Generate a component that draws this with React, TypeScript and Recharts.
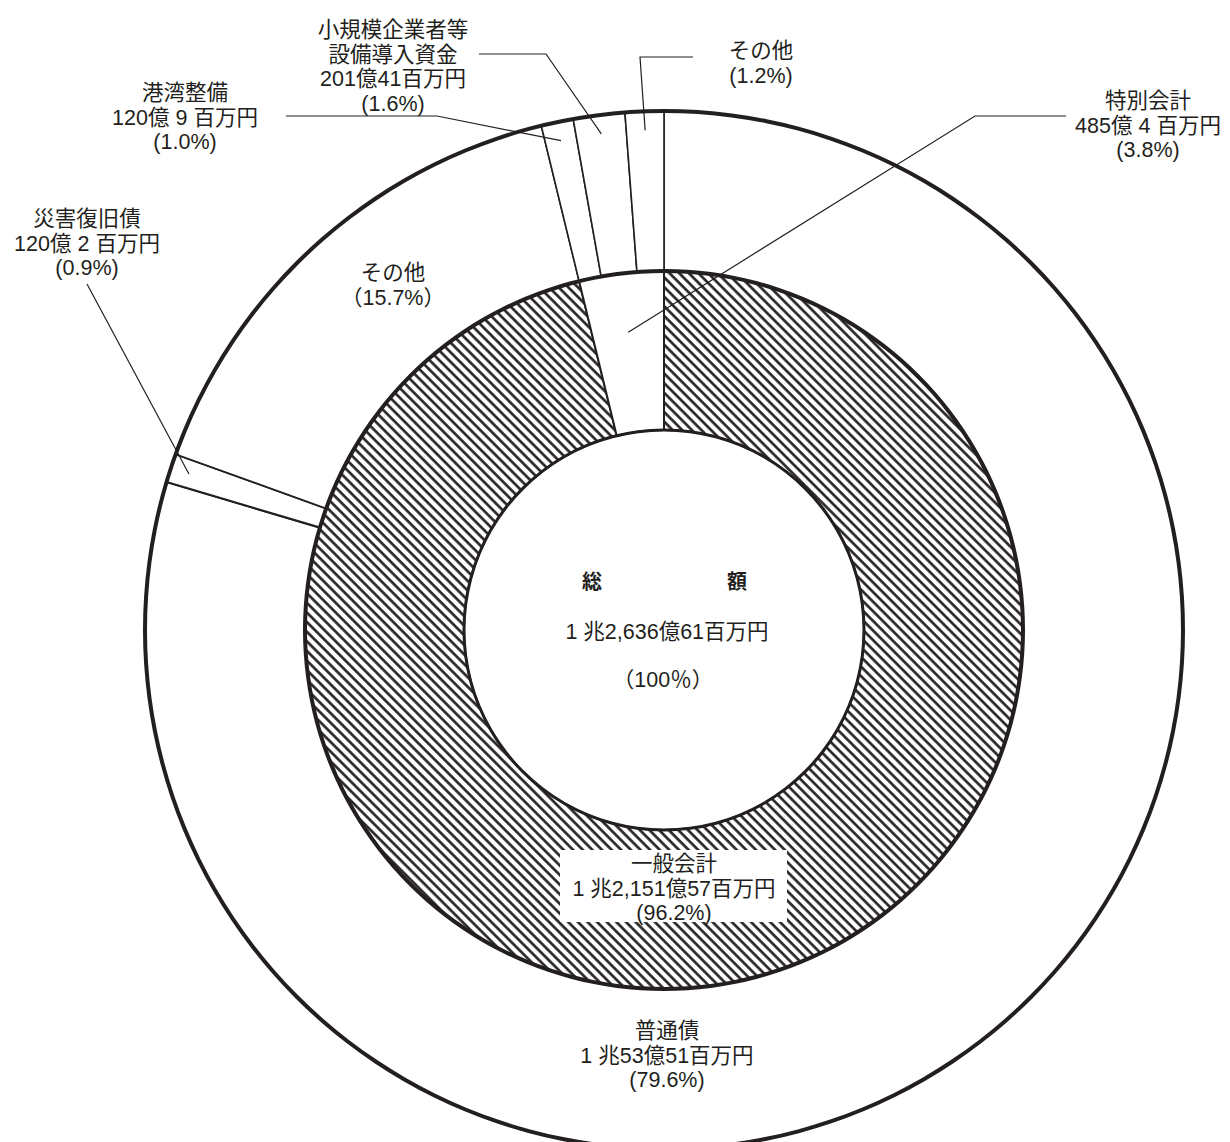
import React from "react";
import { PieChart, Pie, Cell } from "recharts";

// 内側：会計別
const innerNames = ["一般会計", "特別会計"];
const innerAmounts = ["1 兆2,151億57百万円", "485億 4 百万円"];
const innerShares = [96.2, 3.8];

// 外側：内訳
const outerNames = ["普通債", "災害復旧債", "その他", "港湾整備", "小規模企業者等\n設備導入資金", "その他"];
const outerAmounts = ["1 兆53億51百万円", "120億 2 百万円", "", "120億 9 百万円", "201億41百万円", ""];
const outerShares = [79.6, 0.9, 15.7, 1.0, 1.6, 1.2];

const totalAmount = "1 兆2,636億61百万円";
const totalShare = 100;

const INK = "#231f20";
const FONT = "'Liberation Sans', 'Noto Sans CJK JP', sans-serif";
const FS = 21.5;
const LH = 24.5;
const CX = 656;
const CY = 622;
const RAD = Math.PI / 180;

const pct = (v: number, wide = false) => (wide ? `（${v.toFixed(1)}%）` : `(${v.toFixed(1)}%)`);

const innerData = innerNames.map((name, i) => ({ name, value: innerShares[i] }));
const outerData = outerNames.map((name, i) => ({ name, value: outerShares[i] }));
const ring = [{ name: "ring", value: 1 }];

function polar(cx: number, cy: number, r: number, angle: number) {
  return [cx + r * Math.cos(-angle * RAD), cy + r * Math.sin(-angle * RAD)];
}

function TextBlock({ x, y, lines }: { x: number; y: number; lines: string[] }) {
  return (
    <text x={x} y={y} textAnchor="middle" fontFamily={FONT} fontSize={FS} fill={INK}>
      {lines.map((t, i) => (
        <tspan key={i} x={x} dy={i === 0 ? 8 : LH}>
          {t}
        </tspan>
      ))}
    </text>
  );
}

// ラベル配置（テキスト中心と引出線の折れ点）
const outerLayout = [
  { x: 659, y: 1022 },
  { x: 79, y: 210, elbow: [[79, 276]] },
  { x: 385, y: 264 },
  { x: 177, y: 84, elbow: [[278, 108], [429, 108]] },
  { x: 385, y: 21, elbow: [[471, 46], [538, 46]] },
  { x: 753, y: 42, elbow: [[685, 49], [632, 49]] },
];

function outerLabel(props: any) {
  const { index, cx, cy, midAngle } = props;
  const lay = outerLayout[index];
  const lines = outerNames[index].split("\n");
  if (outerAmounts[index]) lines.push(outerAmounts[index]);
  lines.push(pct(outerShares[index], index === 2));
  let leader = null;
  if (lay.elbow) {
    const end = polar(cx, cy, 500, midAngle);
    const pts = [...lay.elbow, end].map((p) => p.join(",")).join(" ");
    leader = <polyline points={pts} fill="none" stroke={INK} strokeWidth={1.2} />;
  }
  return (
    <g key={`ol-${index}`}>
      {leader}
      <TextBlock x={lay.x} y={lay.y} lines={lines} />
    </g>
  );
}

function innerLabel(props: any) {
  const { index, cx, cy, midAngle } = props;
  if (index === 0) {
    return (
      <g key="il-0">
        <rect x={552} y={842} width={227} height={72} fill="#fff" />
        <TextBlock x={666} y={855} lines={[innerNames[0], innerAmounts[0], pct(innerShares[0])]} />
        <text x={cx - 72} y={cy - 48} textAnchor="middle" dominantBaseline="central" fontFamily={FONT} fontSize={20} fontWeight={600} fill={INK}>総</text>
        <text x={cx + 73} y={cy - 48} textAnchor="middle" dominantBaseline="central" fontFamily={FONT} fontSize={20} fontWeight={600} fill={INK}>額</text>
        <text x={cx + 3} y={cy + 2} textAnchor="middle" dominantBaseline="central" fontFamily={FONT} fontSize={FS} fill={INK}>{totalAmount}</text>
        <text x={cx - 1} y={cy + 50} textAnchor="middle" dominantBaseline="central" fontFamily={FONT} fontSize={FS} fill={INK}>{`（${totalShare}％）`}</text>
      </g>
    );
  }
  const end = polar(cx, cy, 300, midAngle);
  const pts = [[1058, 108], [967, 108], end].map((p) => p.join(",")).join(" ");
  return (
    <g key="il-1">
      <polyline points={pts} fill="none" stroke={INK} strokeWidth={1.2} />
      <TextBlock x={1140} y={92} lines={[innerNames[1], innerAmounts[1], pct(innerShares[1])]} />
    </g>
  );
}

export default function App() {
  return (
    <div style={{ width: 1214, height: 1134, background: "#fff" }}>
      <PieChart width={1214} height={1134} margin={{ top: 0, right: 0, bottom: 0, left: 0 }}>
        <defs>
          <pattern id="hatch" patternUnits="userSpaceOnUse" width={6.8} height={12} patternTransform="rotate(-45)">
            <rect width={6.8} height={12} fill="#fff" />
            <line x1={1.5} y1={0} x2={1.5} y2={12} stroke={INK} strokeWidth={2.6} />
          </pattern>
        </defs>
        <Pie
          data={outerData}
          dataKey="value"
          nameKey="name"
          cx={CX}
          cy={CY}
          innerRadius={359}
          outerRadius={519}
          startAngle={90}
          endAngle={-270}
          stroke={INK}
          strokeWidth={1.8}
          label={outerLabel}
          labelLine={false}
          isAnimationActive={false}
        >
          {outerData.map((d, i) => (
            <Cell key={i} fill="#fff" strokeWidth={i === 1 ? 2.2 : 1.6} />
          ))}
        </Pie>
        <Pie
          data={innerData}
          dataKey="value"
          nameKey="name"
          cx={CX}
          cy={CY}
          innerRadius={200}
          outerRadius={359}
          startAngle={90}
          endAngle={-270}
          stroke={INK}
          strokeWidth={2}
          label={innerLabel}
          labelLine={false}
          isAnimationActive={false}
        >
          {innerData.map((d, i) => (
            <Cell key={i} fill={i === 0 ? "url(#hatch)" : "#fff"} />
          ))}
        </Pie>
        <Pie data={ring} dataKey="value" cx={CX} cy={CY} innerRadius={517} outerRadius={521} startAngle={90} endAngle={-270} fill={INK} stroke="none" isAnimationActive={false} />
        <Pie data={ring} dataKey="value" cx={CX} cy={CY} innerRadius={357} outerRadius={361} startAngle={90} endAngle={-270} fill={INK} stroke="none" isAnimationActive={false} />
        <Pie data={ring} dataKey="value" cx={CX} cy={CY} innerRadius={198.5} outerRadius={201.5} startAngle={90} endAngle={-270} fill={INK} stroke="none" isAnimationActive={false} />
      </PieChart>
    </div>
  );
}
